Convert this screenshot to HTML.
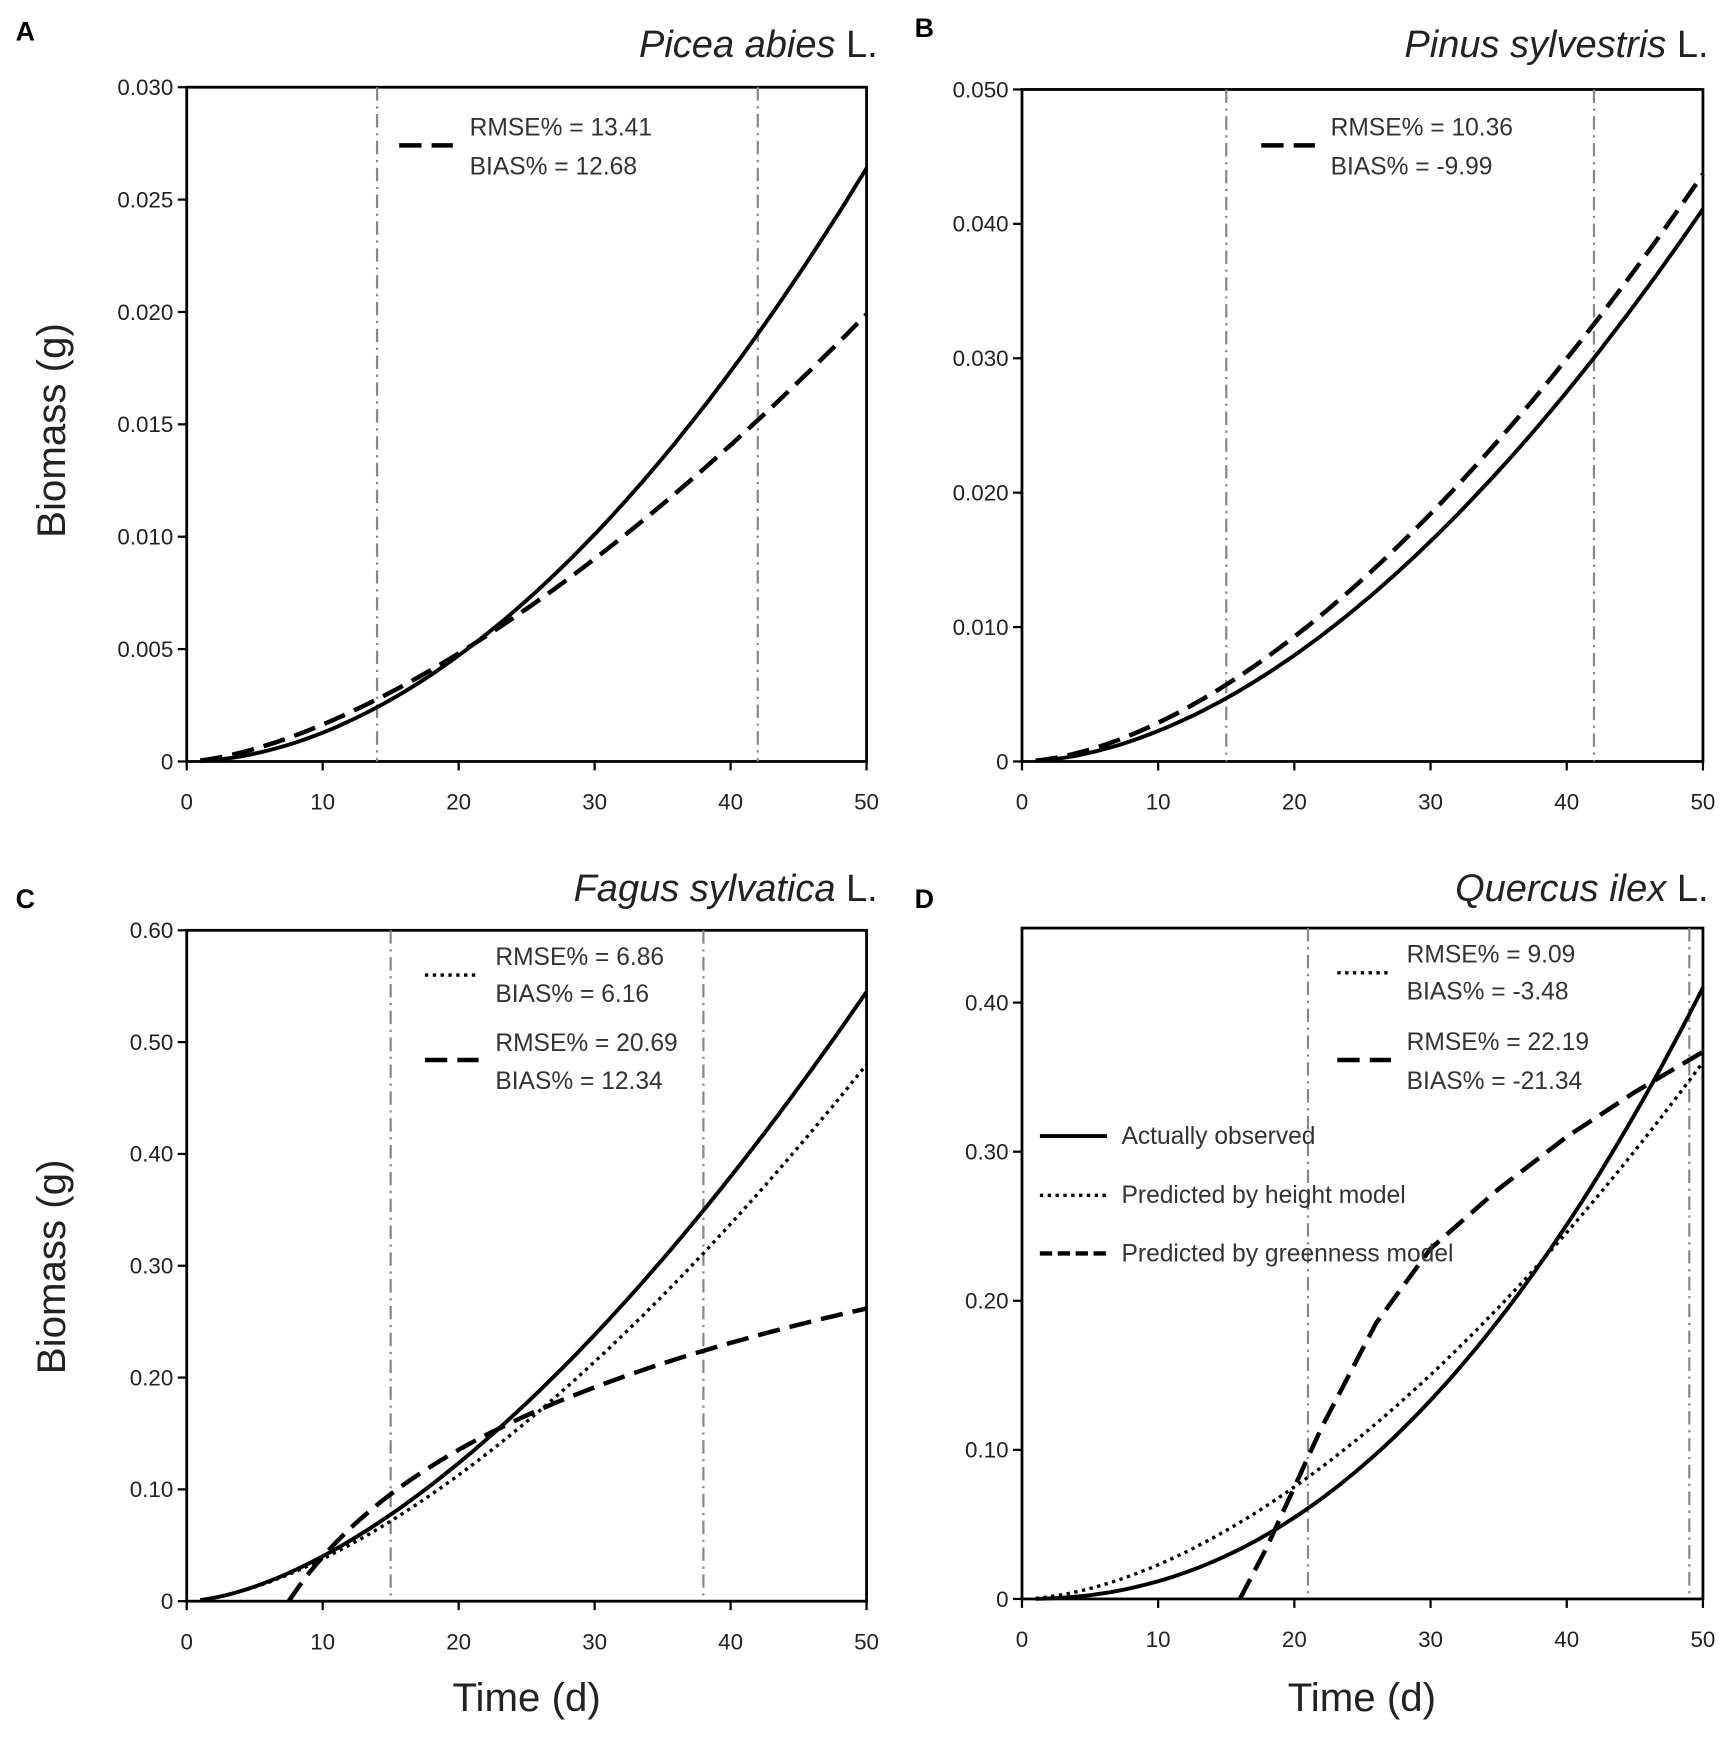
<!DOCTYPE html>
<html><head><meta charset="utf-8"><style>
html,body{margin:0;padding:0;background:#fff}
svg{display:block}
text{font-family:"Liberation Sans",sans-serif;fill:#222}
.tk{font-size:20px}
.lg{font-size:22px;fill:#333}
.ti2{font-size:34px}
.ab{font-size:36px}
.pl{font-size:24px;font-weight:bold;fill:#000}
</style></head><body>
<svg id="s" width="1732" height="1746" viewBox="0 0 1549 1561.5" xmlns="http://www.w3.org/2000/svg"></svg>
<script>
const S=document.getElementById('s');let h='';
function P(x0,x1,yb,yt,ymax,ticks,fmt){return {x:t=>x0+(x1-x0)*t/50,y:v=>yb-(yb-yt)*v/ymax,x0,x1,yb,yt,ymax,ticks,fmt};}
function frame(p,tv){
 h+=`<rect x="${p.x0}" y="${p.yt}" width="${p.x1-p.x0}" height="${p.yb-p.yt}" fill="none" stroke="#000" stroke-width="2.5"/>`;
 for(const t of [0,10,20,30,40,50]){const x=p.x(t);h+=`<line x1="${x}" y1="${p.yb}" x2="${x}" y2="${p.yb+8}" stroke="#000" stroke-width="2"/><text class="tk" x="${x}" y="${p.yb+43}" text-anchor="middle">${t}</text>`;}
 for(const v of p.ticks){const y=p.y(v);h+=`<line x1="${p.x0-8}" y1="${y}" x2="${p.x0}" y2="${y}" stroke="#000" stroke-width="2"/><text class="tk" x="${p.x0-12}" y="${y+7}" text-anchor="end">${v===0?'0':v.toFixed(p.fmt)}</text>`;}
 for(const t of tv){const x=p.x(t);h+=`<line x1="${x}" y1="${p.yt}" x2="${x}" y2="${p.yb}" stroke="#888" stroke-width="2" stroke-dasharray="12,5,2,5"/>`;}
}
function curve(p,f,t0,style){let d='';for(let t=t0;t<=50.001;t+=0.5){d+=(d?'L':'M')+p.x(t).toFixed(1)+','+p.y(f(t)).toFixed(1);}
 h+=`<path d="${d}" fill="none" stroke="#000" ${style}/>`;}
function poly(p,pts,style){let d=pts.map((q,i)=>(i?'L':'M')+p.x(q[0]).toFixed(1)+','+p.y(q[1]).toFixed(1)).join('');h+=`<path d="${d}" fill="none" stroke="#000" stroke-linejoin="round" ${style}/>`;}
const SOL='stroke-width="3.5"',DASH='stroke-width="4" stroke-dasharray="20,9"',DOT='stroke-width="3" stroke-dasharray="3,4"';
const pw=(a,p)=>t=>a*Math.pow(t/50,p);
let A=P(167,775,681,78,0.03,[0,0.005,0.01,0.015,0.02,0.025,0.03],3);
frame(A,[14,42]);curve(A,pw(0.0264,1.88),1,SOL);curve(A,pw(0.0199,1.55),1,DASH);
h+=`<line x1="357" y1="130" x2="405" y2="130" stroke="#000" ${DASH}/><text class="lg" x="420" y="121">RMSE% = 13.41</text><text class="lg" x="420" y="156">BIAS% = 12.68</text>`;
let B=P(914,1523,681,80,0.05,[0,0.01,0.02,0.03,0.04,0.05],3);
frame(B,[15,42]);curve(B,pw(0.0411,1.80),1,SOL);curve(B,pw(0.0437,1.69),1,DASH);
h+=`<line x1="1128" y1="130" x2="1176" y2="130" stroke="#000" ${DASH}/><text class="lg" x="1190" y="121">RMSE% = 10.36</text><text class="lg" x="1190" y="156">BIAS% = -9.99</text>`;
let C=P(167,775,1432,832,0.6,[0,0.1,0.2,0.3,0.4,0.5,0.6],2);
frame(C,[15,38]);curve(C,pw(0.545,1.62),1,SOL);curve(C,pw(0.48,1.58),1,DOT);curve(C,t=>0.138*Math.log(t/7.5),7.5,DASH);
h+=`<line x1="380" y1="872" x2="428" y2="872" stroke="#000" ${DOT}/><text class="lg" x="443" y="863">RMSE% = 6.86</text><text class="lg" x="443" y="896">BIAS% = 6.16</text>`;
h+=`<line x1="380" y1="948" x2="428" y2="948" stroke="#000" ${DASH}/><text class="lg" x="443" y="940">RMSE% = 20.69</text><text class="lg" x="443" y="974">BIAS% = 12.34</text>`;
let D=P(914,1523,1430,830,0.45,[0,0.1,0.2,0.3,0.4],2);
frame(D,[21,49]);curve(D,pw(0.41,2.2),1,SOL);curve(D,pw(0.36,1.71),1,DOT);
poly(D,[[16,0],[18,0.035],[20,0.075],[22,0.115],[24,0.15],[26,0.185],[28,0.21],[30,0.235],[35,0.275],[40,0.31],[45,0.34],[50,0.367]],DASH);
h+=`<line x1="1196" y1="870" x2="1244" y2="870" stroke="#000" ${DOT}/><text class="lg" x="1258" y="861">RMSE% = 9.09</text><text class="lg" x="1258" y="894">BIAS% = -3.48</text>`;
h+=`<line x1="1196" y1="948" x2="1244" y2="948" stroke="#000" ${DASH}/><text class="lg" x="1258" y="939">RMSE% = 22.19</text><text class="lg" x="1258" y="974">BIAS% = -21.34</text>`;
h+=`<line x1="930" y1="1016" x2="990" y2="1016" stroke="#000" ${SOL}/><text class="lg" x="1003" y="1023" font-size="21">Actually observed</text>`;
h+=`<line x1="930" y1="1069" x2="990" y2="1069" stroke="#000" ${DOT}/><text class="lg" x="1003" y="1076" font-size="21">Predicted by height model</text>`;
h+=`<line x1="930" y1="1121" x2="990" y2="1121" stroke="#000" stroke-width="4" stroke-dasharray="11,5"/><text class="lg" x="1003" y="1128" font-size="21">Predicted by greenness model</text>`;
h+=`<text class="pl" x="14" y="36">A</text><text class="pl" x="818" y="33">B</text><text class="pl" x="14" y="812">C</text><text class="pl" x="818" y="812">D</text>`;
h+=`<text class="ti2" x="785" y="51" text-anchor="end"><tspan font-style="italic">Picea abies</tspan> L.</text>`;
h+=`<text class="ti2" x="1528" y="51" text-anchor="end"><tspan font-style="italic">Pinus sylvestris</tspan> L.</text>`;
h+=`<text class="ti2" x="785" y="806" text-anchor="end"><tspan font-style="italic">Fagus sylvatica</tspan> L.</text>`;
h+=`<text class="ti2" x="1528" y="806" text-anchor="end"><tspan font-style="italic">Quercus ilex</tspan> L.</text>`;
h+=`<text class="ab" transform="translate(58,385) rotate(-90)" text-anchor="middle">Biomass (g)</text>`;
h+=`<text class="ab" transform="translate(58,1133) rotate(-90)" text-anchor="middle">Biomass (g)</text>`;
h+=`<text class="ab" x="471" y="1530" text-anchor="middle" font-size="43">Time (d)</text>`;
h+=`<text class="ab" x="1218" y="1530" text-anchor="middle" font-size="43">Time (d)</text>`;
S.innerHTML=h;
</script>
</body></html>
